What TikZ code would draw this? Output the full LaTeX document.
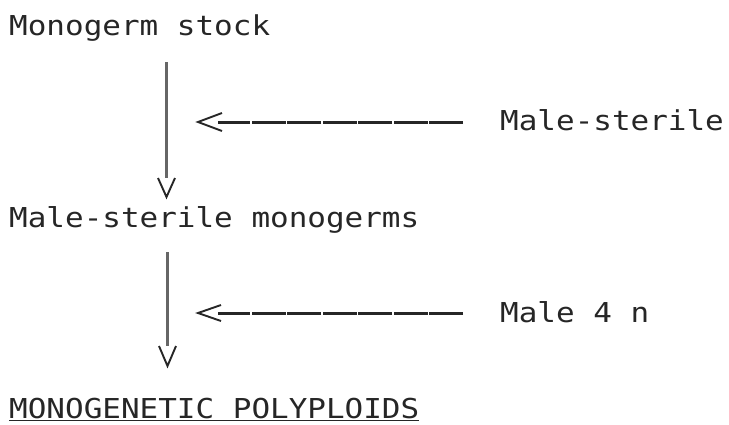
\documentclass[tikz,border=0pt]{standalone}
\usepackage{fontspec}
\newfontfamily\typewriter[FakeStretch=1.13]{DejaVu Sans Mono}
\begin{document}
\begin{tikzpicture}[x=1pt,y=-1pt,
  label/.style={anchor=base west,inner sep=0pt,font=\typewriter\fontsize{27.4}{30}\selectfont,text=black!85},
  stem/.style={line width=3.2pt,draw=black!60},
  vhead/.style={line width=1.9pt,draw=black!85,line join=miter},
  feed/.style={line width=3pt,draw=black!85,dash pattern=on 34pt off 1.5pt},
  lthan/.style={line width=1.9pt,draw=black!85}]
\useasboundingbox (0,0) rectangle (729,424);

% stages of the scheme
\node[label] (stock) at (9,35) {Monogerm stock};
\node[label] (msmono) at (9,227) {Male-sterile monogerms};
\node[label] (poly) at (9,418) {MONOGENETIC POLYPLOIDS};
\node[label] (ms) at (500,130) {Male-sterile};
\node[label] (m4n) at (500,322) {Male 4 n};

% underline of the end product
\draw[line width=1.2pt,black!85] ([yshift=-2.5pt]poly.base west) -- ([yshift=-2.5pt]poly.base east);

% first vertical step
\coordinate (s1top) at (166.5,62);
\coordinate (s1bot) at (166.5,178);
\draw[stem] (s1top) -- (s1bot);
\draw[vhead] (158,178) -- (166.5,197) -- (175,178);

% second vertical step
\coordinate (s2top) at (167.5,252);
\coordinate (s2bot) at (167.5,346);
\draw[stem] (s2top) -- (s2bot);
\draw[vhead] (159,346) -- (167.5,366) -- (176,346);

% first cross: male-sterile parent
\coordinate (f1end) at (463,122);
\coordinate (f1tip) at (218,122);
\draw[feed] (f1end) -- (f1tip);
\draw[lthan] (222,113) -- (198,122) -- (222,131);

% second cross: male 4n parent
\coordinate (f2end) at (463,313);
\coordinate (f2tip) at (218,313);
\draw[feed] (f2end) -- (f2tip);
\draw[lthan] (221,305) -- (198,313) -- (221,321);
\end{tikzpicture}
\end{document}
